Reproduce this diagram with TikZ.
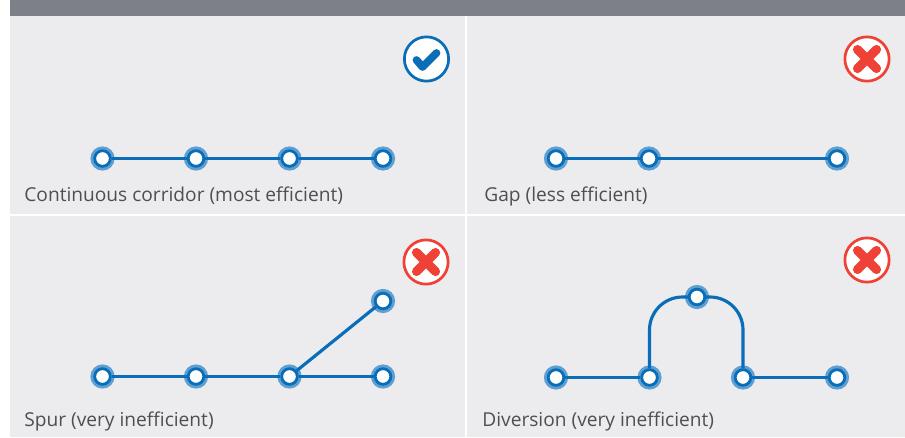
\documentclass[tikz,border=0pt]{standalone}
\usepackage{fontspec}
\setmainfont{Open Sans}
\usepackage{tikz}
\definecolor{headgray}{HTML}{7E8088}
\definecolor{panelgray}{HTML}{ECECEE}
\definecolor{lineblue}{HTML}{0A6DB7}
\definecolor{haloblue}{HTML}{5F9FD2}
\definecolor{crossred}{HTML}{EF4136}
\definecolor{labelgray}{HTML}{4D4F55}
\tikzset{
  panel/.style={fill=panelgray},
  stop/.style={circle, draw=lineblue, fill=white, line width=1.6pt, minimum size=8.9pt, inner sep=0pt,
    preaction={draw=haloblue, line width=4.8pt}},
  route/.style={draw=lineblue, line width=1.8pt},
  caption/.style={anchor=base west, inner sep=0pt, text=labelgray, font=\fontsize{10.9pt}{13pt}\selectfont},
  badge/.style={circle, fill=white, line width=1.55pt, minimum size=25.2pt, inner sep=0pt},
  tickbadge/.style={badge, draw=lineblue, path picture={
    \draw[lineblue, line width=4.4pt, line cap=round, line join=round]
      ([shift={(-10,1)}]path picture bounding box.center) -- ([shift={(-4,8)}]path picture bounding box.center) -- ([shift={(10,-6)}]path picture bounding box.center);}},
  crossbadge/.style={badge, draw=crossred, path picture={
    \draw[crossred, line width=5.2pt, line cap=round]
      ([shift={(-9.5,-9.5)}]path picture bounding box.center) -- ([shift={(9.5,9.5)}]path picture bounding box.center)
      ([shift={(-9.5,9.5)}]path picture bounding box.center) -- ([shift={(9.5,-9.5)}]path picture bounding box.center);}}
}
\begin{document}
\begin{tikzpicture}[x=0.02cm, y=-0.02cm]
    \useasboundingbox (0,0) rectangle (905,437);
    \fill[white] (0,0) rectangle (905,437);
    \fill[headgray] (10,0) rectangle (905,16);
    \fill[panel] (10,16) rectangle (465,214);
    \fill[panel] (467,16) rectangle (905,214);
    \fill[panel] (10,216) rectangle (465,437);
    \fill[panel] (467,216) rectangle (905,437);

    % continuous corridor
    \node[stop] (a1) at (102.5,158.5) {};
    \node[stop] (a2) at (196,158.5) {};
    \node[stop] (a3) at (289.5,158.5) {};
    \node[stop] (a4) at (383,158.5) {};
    \draw[route] (a1) -- (a2);
    \draw[route] (a2) -- (a3);
    \draw[route] (a3) -- (a4);
    \node[tickbadge] (ok) at (426.5,59) {};
    \node[caption] (ca) at (24,201) {Continuous corridor (most efficient)};

    % gap
    \node[stop] (b1) at (556,158.5) {};
    \node[stop] (b2) at (649,158.5) {};
    \node[stop] (b3) at (837,158.5) {};
    \draw[route] (b1) -- (b2);
    \draw[route] (b2) -- (b3);
    \node[crossbadge] (nob) at (867,59) {};
    \node[caption] (cb) at (484,201) {Gap (less efficient)};

    % spur
    \node[stop] (c1) at (102.5,376.5) {};
    \node[stop] (c2) at (196,376.5) {};
    \node[stop] (c3) at (289.5,376.5) {};
    \node[stop] (c4) at (383,376.5) {};
    \node[stop] (c5) at (383,301) {};
    \draw[route] (c1) -- (c2);
    \draw[route] (c2) -- (c3);
    \draw[route] (c3) -- (c4);
    \draw[route] (c3) -- (c5);
    \node[crossbadge] (noc) at (426,262) {};
    \node[caption] (cc) at (24,426) {Spur (very inefficient)};

    % diversion
    \node[stop] (d1) at (556,377.5) {};
    \node[stop] (d2) at (649.5,377.5) {};
    \node[stop] (d3) at (697,297) {};
    \node[stop] (d4) at (743,377.5) {};
    \node[stop] (d5) at (837,377.5) {};
    \draw[route] (d1) -- (d2);
    \draw[route, rounded corners=0.66cm] (d2) |- (d3);
    \draw[route, rounded corners=0.66cm] (d4) |- (d3);
    \draw[route] (d4) -- (d5);
    \node[crossbadge] (nod) at (867,260) {};
    \node[caption] (cd) at (482,426) {Diversion (very inefficient)};
  \end{tikzpicture}
\end{document}
